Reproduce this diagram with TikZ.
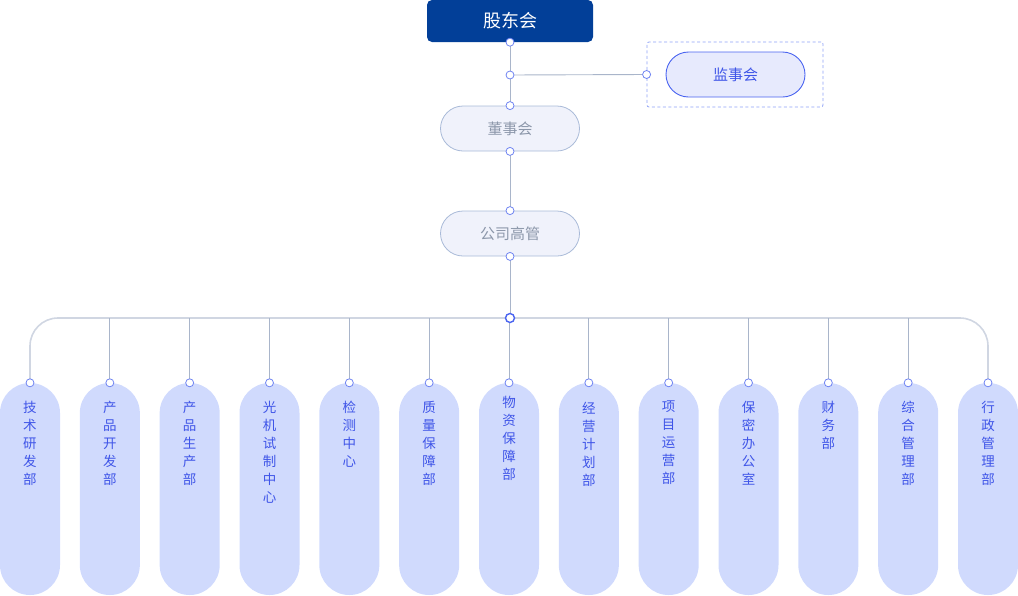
\documentclass[tikz,border=0pt]{standalone}
\usepackage{fontspec}
\setmainfont{Noto Sans CJK SC}
\begin{document}
\begin{tikzpicture}[x=1pt,y=-1pt,
  topbox/.style={fill=topblue, rounded corners=5pt, minimum width=166pt, minimum height=42pt, text=white, font=\fontsize{18}{20}\selectfont, inner sep=0pt},
  graypill/.style={fill=grayfill, draw=grayline, line width=0.8pt, rounded corners=22.5pt, minimum width=139pt, minimum height=45pt, text=graytext, font=\fontsize{15}{17}\selectfont, inner sep=0pt},
  bluepill/.style={fill=lightblue, draw=strongblue, line width=0.9pt, rounded corners=22.5pt, minimum width=139pt, minimum height=45pt, text=bluetext, font=\fontsize{15}{17}\selectfont, inner sep=0pt},
  deptpill/.style={fill=deptfill, rounded corners=29.9pt, minimum width=60pt, minimum height=212pt, inner sep=0pt},
  depttext/.style={anchor=north, text=bluetext, align=center, font=\fontsize{13.5}{18}\selectfont, inner sep=0pt},
  dot/.style={circle, fill=white, draw=dotblue, line width=0.8pt, minimum size=8pt, inner sep=0pt},
  hubdot/.style={circle, fill=white, draw=strongblue, line width=1.4pt, minimum size=9pt, inner sep=0pt},
  vline/.style={draw=vlinec, line width=0.9pt},
  hline/.style={draw=hlinec, line width=1.6pt},
  dashbox/.style={draw=dashc, line width=0.8pt, dash pattern=on 3pt off 2.5pt, rounded corners=2pt, minimum width=176pt, minimum height=65pt, inner sep=0pt}
]
\definecolor{topblue}{HTML}{023F98}
\definecolor{grayfill}{HTML}{F0F2FB}
\definecolor{grayline}{HTML}{A9BAD8}
\definecolor{graytext}{HTML}{8C97AA}
\definecolor{lightblue}{HTML}{E7EAFD}
\definecolor{strongblue}{HTML}{4A64F0}
\definecolor{bluetext}{HTML}{3F55E8}
\definecolor{deptfill}{HTML}{D0DAFD}
\definecolor{dotblue}{HTML}{6F84F2}
\definecolor{vlinec}{HTML}{A9B5CA}
\definecolor{hlinec}{HTML}{D0D6E2}
\definecolor{dashc}{HTML}{8FA2F6}

\useasboundingbox (0,0) rectangle (1018,595);

% top
\node[topbox] (gd) at (510,21) {股东会};
\node[graypill] (ds) at (510,128.5) {董事会};
\node[graypill] (gg) at (510,233.5) {公司高管};
\node[dashbox] (jsbox) at (735,74.5) {};
\node[bluepill] (js) at (735.5,74.5) {监事会};

\coordinate (j1) at (510,75);
\coordinate (hub) at (510,318);

% departments
\foreach \i/\t/\s [count=\k from 0] in {
  1/{技\\术\\研\\发\\部}/18,
  2/{产\\品\\开\\发\\部}/18,
  3/{产\\品\\生\\产\\部}/18,
  4/{光\\机\\试\\制\\中\\心}/18,
  5/{检\\测\\中\\心}/18,
  6/{质\\量\\保\\障\\部}/18,
  7/{物\\资\\保\\障\\部}/13,
  8/{经\\营\\计\\划\\部}/19,
  9/{项\\目\\运\\营\\部}/18,
  10/{保\\密\\办\\公\\室}/18,
  11/{财\\务\\部}/18,
  12/{综\\合\\管\\理\\部}/18,
  13/{行\\政\\管\\理\\部}/18} {
  \node[deptpill] (d\i) at ({30+79.833*\k},489) {};
  \node[depttext] (t\i) at ([yshift=-\s pt]d\i.north) {\t};
}

% connectors
\draw[vline] (gd.south) -- (ds.north);
\draw[vline] (j1) -- (jsbox.west);
\draw[vline] (ds.south) -- (gg.north);
\draw[vline] (gg.south) -- (hub);
\draw[hline, rounded corners=28pt] (d1.north) |- (hub) -| (d13.north);
\foreach \i in {2,...,12} {
  \draw[vline] (d\i.north) -- (d\i.north |- hub);
}

% dots
\node[dot] at (gd.south) {};
\node[dot] at (j1) {};
\node[dot] at (jsbox.west) {};
\node[dot] at (ds.north) {};
\node[dot] at (ds.south) {};
\node[dot] at (gg.north) {};
\node[dot] at (gg.south) {};
\foreach \i in {1,...,13} { \node[dot] at (d\i.north) {}; }
\node[hubdot] at (hub) {};
\end{tikzpicture}
\end{document}
